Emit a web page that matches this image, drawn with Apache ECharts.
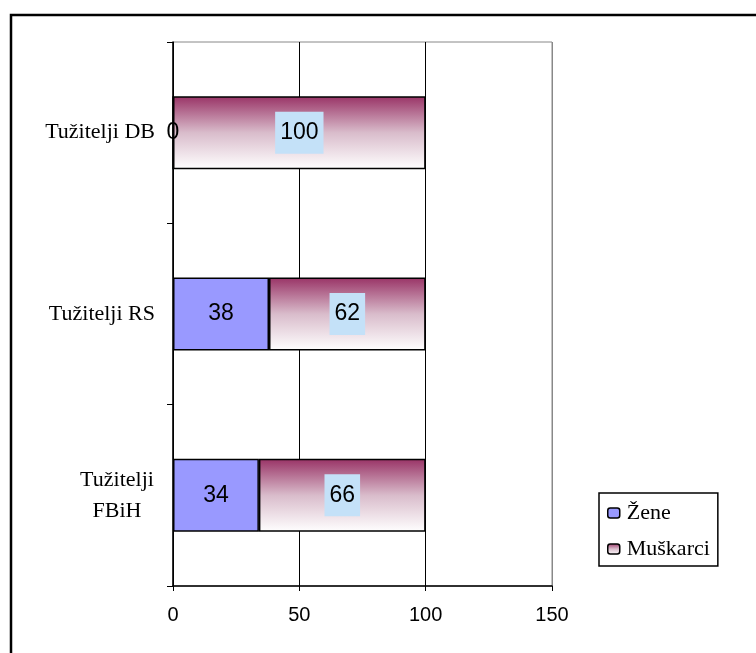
<!DOCTYPE html>
<html>
<head>
<meta charset="utf-8">
<script src="https://cdn.jsdelivr.net/npm/echarts@6/dist/echarts.min.js"></script>
<style>html,body{margin:0;padding:0;background:#fff}#c{width:756px;height:653px}</style>
</head>
<body>
<div id="c"></div>
<script>
var categories = ['Tužitelji FBiH', 'Tužitelji RS', 'Tužitelji DB'];
var zene = [34, 38, 0];
var muskarci = [66, 62, 100];
var xTicks = [0, 50, 100, 150];

var chart = echarts.init(document.getElementById('c'));
chart.setOption({
  backgroundColor: '#fff',
  animation: false,
  graphic: [{
    type: 'rect',
    shape: { x: 11, y: 15, width: 800, height: 700 },
    style: { fill: 'none', stroke: '#000', lineWidth: 2.5 }
  }],
  grid: { left: 173, right: 204, top: 42, bottom: 67, show: true, borderColor: '#888', borderWidth: 1 },
  legend: {
    orient: 'vertical', left: 599, top: 493,
    data: ['Žene', 'Muškarci'],
    itemWidth: 12, itemHeight: 10, itemGap: 14,
    padding: [9, 8, 6, 8],
    borderColor: '#000', borderWidth: 1.5,
    textStyle: { fontFamily: 'Liberation Serif', fontSize: 22, color: '#000', padding: [0, 0, 0, 2] },
    itemStyle: { borderColor: '#000', borderWidth: 1.5 }
  },
  xAxis: {
    type: 'value', min: xTicks[0], max: xTicks[xTicks.length - 1], interval: 50,
    axisLine: { show: true, lineStyle: { color: '#000', width: 1.5 } },
    axisTick: { show: true, length: 5, lineStyle: { color: '#000' } },
    axisLabel: { margin: 19, fontFamily: 'Liberation Sans', fontSize: 20, color: '#000' },
    splitLine: { show: true, lineStyle: { color: ['#000', '#000', '#000', '#888'], width: 1 } }
  },
  yAxis: {
    type: 'category', data: categories,
    axisLine: { show: true, lineStyle: { color: '#000', width: 1.5 } },
    axisTick: { show: true, length: 6, lineStyle: { color: '#000' } },
    axisLabel: {
      margin: 18, fontFamily: 'Liberation Serif', fontSize: 22, color: '#000', lineHeight: 31,
      formatter: function (v) {
        if (v === 'Tužitelji FBiH') return '{a|Tužitelji}\n{a|FBiH}';
        return v;
      },
      rich: { a: { width: 76, align: 'center', fontFamily: 'Liberation Serif', fontSize: 22, color: '#000', lineHeight: 31 } }
    }
  },
  series: [{
    name: 'Žene', type: 'bar', stack: 's', barWidth: 73, data: zene,
    itemStyle: { color: '#9999ff', borderColor: '#000', borderWidth: 1.5 },
    label: { show: true, position: 'inside', fontFamily: 'Liberation Sans', fontSize: 23, color: '#000' }
  }, {
    name: 'Muškarci', type: 'bar', stack: 's', barWidth: 73, data: muskarci,
    itemStyle: {
      color: new echarts.graphic.LinearGradient(0, 0, 0, 1, [
        { offset: 0, color: '#993366' },
        { offset: 0.5, color: '#d9bccb' },
        { offset: 1, color: '#ffffff' }
      ]),
      borderColor: '#000', borderWidth: 1.5
    },
    label: {
      show: true, position: 'inside', fontFamily: 'Liberation Sans', fontSize: 23, color: '#000',
      backgroundColor: '#c4e1f8', padding: [10, 5, 9, 5]
    }
  }]
});
</script>
</body>
</html>
